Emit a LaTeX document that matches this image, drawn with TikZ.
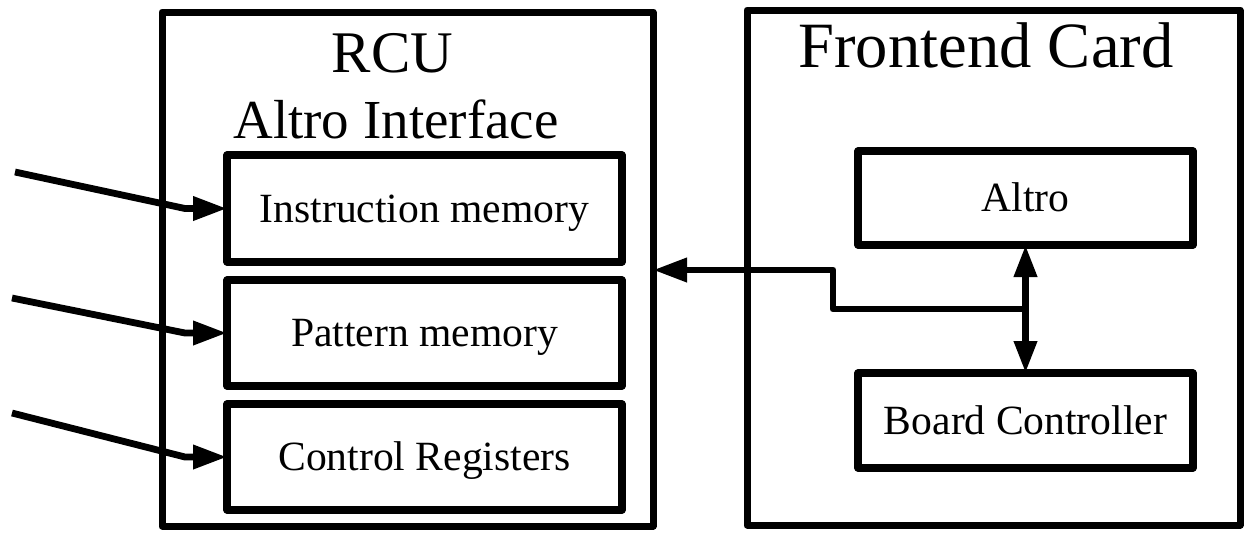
\documentclass[tikz,border=0pt]{standalone}
\usepackage{fontspec}
\setmainfont{Liberation Serif}
\usetikzlibrary{arrows.meta,calc}
\begin{document}
\begin{tikzpicture}[x=0.5pt,y=-0.5pt,
  every node/.style={inner sep=0pt,outer sep=0pt},
  outerbox/.style={draw,line width=3.5pt,line join=round,rectangle},
  innerbox/.style={draw,line width=3.6pt,line join=round,rectangle,
    font=\fontsize{20.8pt}{24pt}\selectfont,text height=13.8pt,text depth=0pt},
  conn/.style={line width=3.4pt,line join=round},
  arr/.style={conn,-{Triangle[length=17pt,width=11.5pt]}},
  darr/.style={conn,{Triangle[length=16pt,width=11pt]}-{Triangle[length=16pt,width=11pt]}}
]
\useasboundingbox (0,0) rectangle (1248,532);
% outer boxes
\node[outerbox,minimum width=245.5pt,minimum height=257pt] (rcu) at (407.5,269) {};
\node[outerbox,minimum width=246.5pt,minimum height=257.5pt] (fec) at (993.5,267.5) {};
% titles
\node[anchor=base,font=\fontsize{29.5pt}{34pt}\selectfont] (rcut) at (392.5,72) {RCU};
\node[anchor=base,font=\fontsize{27.5pt}{32pt}\selectfont] (ait) at (396,138) {Altro Interface};
\node[anchor=base,font=\fontsize{32.3pt}{38pt}\selectfont] (fect) at (986,67) {Frontend Card};
% inner boxes
\node[innerbox,minimum width=197.5pt,minimum height=53.5pt] (im) at (424.5,208.5) {Instruction memory};
\node[innerbox,minimum width=197.5pt,minimum height=53pt] (pm) at (424.5,333) {Pattern memory};
\node[innerbox,minimum width=197.5pt,minimum height=53pt] (cr) at (424.5,457) {Control Registers};
\node[innerbox,minimum width=167.5pt,minimum height=47pt] (altro) at (1025.5,198) {Altro};
\node[innerbox,minimum width=167.5pt,minimum height=47.5pt] (bc) at (1025.5,420.5) {Board Controller};
% incoming arrows
\coordinate (in1) at (15,172);
\coordinate (b1) at (185,208.5);
\coordinate (in2) at (12,298);
\coordinate (b2) at (185,333);
\coordinate (in3) at (12,413);
\coordinate (b3) at (185,457);
\draw[arr] (in1) -- (b1) -- (im.west);
\draw[arr] (in2) -- (b2) -- (pm.west);
\draw[arr] (in3) -- (b3) -- (cr.west);
% frontend bus
\draw[darr] (altro.south) -- (bc.north);
\coordinate (j) at ($(altro.south)!0.5!(bc.north)$);
\coordinate (s1) at (833,309);
\coordinate (s2) at (833,270);
\draw[arr] (j) -- (s1) -- (s2) -- (s2 -| rcu.east);
\end{tikzpicture}
\end{document}
